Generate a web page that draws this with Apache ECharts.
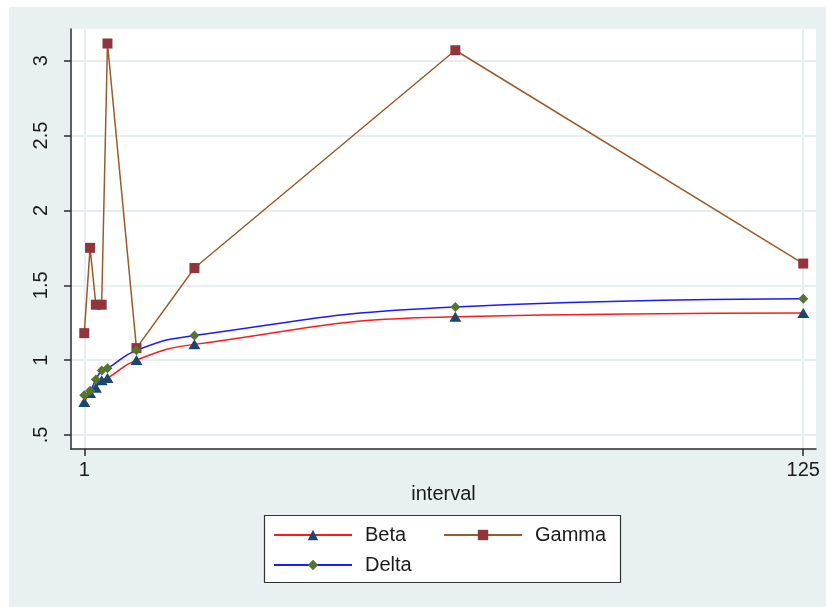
<!DOCTYPE html>
<html>
<head>
<meta charset="utf-8">
<title>interval</title>
<script src="https://cdn.jsdelivr.net/npm/echarts@6/dist/echarts.min.js"></script>
<style>
  html, body { margin: 0; padding: 0; background: #fff; }
  #main { width: 826px; height: 607px; }
</style>
</head>
<body>
<div id="main"></div>
<script>
// 数据
var xValues = [1, 2, 3, 4, 5, 10, 20, 65, 125];
var betaValues = [0.72, 0.78, 0.815, 0.865, 0.88, 1.0, 1.105, 1.29, 1.315];
var gammaValues = [1.18, 1.75, 1.37, 1.37, 3.115, 1.08, 1.615, 3.07, 1.645];
var deltaValues = [0.765, 0.795, 0.87, 0.93, 0.945, 1.065, 1.165, 1.355, 1.41];
var xTicks = [1, 125];
var yTicks = [0.5, 1, 1.5, 2, 2.5, 3];

var FONT = '"Liberation Sans", Arial, sans-serif';
var TEXT_COLOR = '#1a1a1a';
var AXIS_COLOR = '#2b2b2b';
var GRID_COLOR = '#e6eef1';

// x,y 配对
function pairs(ys) {
  return xValues.map(function (x, i) { return [x, ys[i]]; });
}

var myChart = echarts.init(document.getElementById('main'));

var option = {
  animation: false,
  backgroundColor: '#fff',
  graphic: [
    // 外层浅色背景
    { type: 'rect', z: -10, shape: { x: 9, y: 7, width: 817, height: 600 }, style: { fill: '#e9f0f2' } },
    // 图例边框
    { type: 'rect', z: 5, shape: { x: 264.5, y: 515.5, width: 356, height: 67 },
      style: { fill: '#fff', stroke: '#333', lineWidth: 1.2 } }
  ],
  grid: {
    left: 71, top: 29, right: 10, bottom: 158,
    show: true, backgroundColor: '#fff', borderWidth: 0
  },
  legend: [
    {
      data: ['Beta', 'Delta'],
      orient: 'vertical',
      left: 273, top: 525, padding: 0,
      itemWidth: 78, itemHeight: 13, itemGap: 10,
      z: 10,
      textStyle: { fontFamily: FONT, fontSize: 20, color: TEXT_COLOR, lineHeight: 20, padding: [0, 0, 0, 8] }
    },
    {
      data: ['Gamma'],
      orient: 'vertical',
      left: 443, top: 525, padding: 0,
      itemWidth: 78, itemHeight: 13,
      z: 10,
      textStyle: { fontFamily: FONT, fontSize: 20, color: TEXT_COLOR, lineHeight: 20, padding: [0, 0, 0, 8] }
    }
  ],
  xAxis: {
    type: 'value',
    min: -1.29,
    max: 127.2,
    name: 'interval',
    nameLocation: 'middle',
    nameGap: 33,
    nameTextStyle: { fontFamily: FONT, fontSize: 20, color: TEXT_COLOR },
    axisLine: { show: true, onZero: false, lineStyle: { color: AXIS_COLOR, width: 1.5 } },
    axisTick: { show: true, length: 7, customValues: xTicks, lineStyle: { color: AXIS_COLOR, width: 1.5 } },
    axisLabel: { customValues: xTicks, margin: 11, fontFamily: FONT, fontSize: 20, color: TEXT_COLOR, showMinLabel: true, showMaxLabel: true },
    splitLine: { show: true, lineStyle: { color: GRID_COLOR, width: 2 } }
  },
  yAxis: {
    type: 'value',
    min: 0.406,
    max: 3.212,
    axisLine: { show: true, onZero: false, lineStyle: { color: AXIS_COLOR, width: 1.5 } },
    axisTick: { show: true, length: 7, customValues: yTicks, lineStyle: { color: AXIS_COLOR, width: 1.5 } },
    axisLabel: {
      customValues: yTicks,
      rotate: 90,
      margin: 20,
      fontFamily: FONT, fontSize: 20, color: TEXT_COLOR,
      formatter: function (v) { return String(v).replace(/^0\./, '.'); }
    },
    splitLine: { show: true, lineStyle: { color: GRID_COLOR, width: 2 } }
  },
  series: [
    {
      name: 'Beta',
      type: 'line',
      data: pairs(betaValues),
      smooth: 0.5,
      symbol: 'triangle',
      symbolSize: [12, 10],
      lineStyle: { color: '#ff1a1a', width: 1.5 },
      itemStyle: { color: '#1a476f' }
    },
    {
      name: 'Gamma',
      type: 'line',
      data: pairs(gammaValues),
      symbol: 'rect',
      symbolSize: 10,
      lineStyle: { color: '#9a5a2a', width: 1.5 },
      itemStyle: { color: '#90353b' }
    },
    {
      name: 'Delta',
      type: 'line',
      data: pairs(deltaValues),
      smooth: 0.5,
      symbol: 'diamond',
      symbolSize: 10,
      lineStyle: { color: '#1a1aff', width: 1.5 },
      itemStyle: { color: '#55752f' }
    }
  ]
};

myChart.setOption(option);
</script>
</body>
</html>
